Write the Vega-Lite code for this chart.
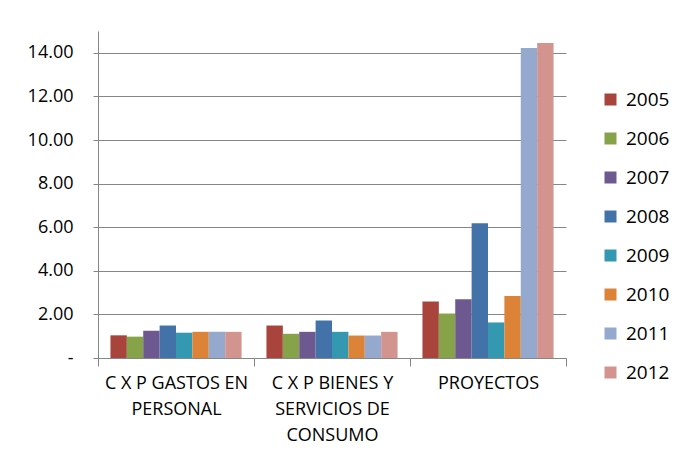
{
  "$schema": "https://vega.github.io/schema/vega-lite/v6.json",
  "width": 468,
  "height": 327,
  "autosize": "none",
  "padding": {"left": 98, "top": 31, "right": 112, "bottom": 102},
  "background": "white",
  "config": {
    "font": "Open Sans",
    "view": {"stroke": null}
  },
  "data": {
    "values": [
      {"cat": "C X P GASTOS EN|PERSONAL", "year": "2005", "value": 1.04},
      {"cat": "C X P GASTOS EN|PERSONAL", "year": "2006", "value": 0.98},
      {"cat": "C X P GASTOS EN|PERSONAL", "year": "2007", "value": 1.25},
      {"cat": "C X P GASTOS EN|PERSONAL", "year": "2008", "value": 1.49},
      {"cat": "C X P GASTOS EN|PERSONAL", "year": "2009", "value": 1.16},
      {"cat": "C X P GASTOS EN|PERSONAL", "year": "2010", "value": 1.2},
      {"cat": "C X P GASTOS EN|PERSONAL", "year": "2011", "value": 1.2},
      {"cat": "C X P GASTOS EN|PERSONAL", "year": "2012", "value": 1.2},
      {"cat": "C X P BIENES Y|SERVICIOS DE|CONSUMO", "year": "2005", "value": 1.49},
      {"cat": "C X P BIENES Y|SERVICIOS DE|CONSUMO", "year": "2006", "value": 1.11},
      {"cat": "C X P BIENES Y|SERVICIOS DE|CONSUMO", "year": "2007", "value": 1.2},
      {"cat": "C X P BIENES Y|SERVICIOS DE|CONSUMO", "year": "2008", "value": 1.72},
      {"cat": "C X P BIENES Y|SERVICIOS DE|CONSUMO", "year": "2009", "value": 1.2},
      {"cat": "C X P BIENES Y|SERVICIOS DE|CONSUMO", "year": "2010", "value": 1.03},
      {"cat": "C X P BIENES Y|SERVICIOS DE|CONSUMO", "year": "2011", "value": 1.03},
      {"cat": "C X P BIENES Y|SERVICIOS DE|CONSUMO", "year": "2012", "value": 1.2},
      {"cat": "PROYECTOS", "year": "2005", "value": 2.59},
      {"cat": "PROYECTOS", "year": "2006", "value": 2.04},
      {"cat": "PROYECTOS", "year": "2007", "value": 2.7},
      {"cat": "PROYECTOS", "year": "2008", "value": 6.18},
      {"cat": "PROYECTOS", "year": "2009", "value": 1.63},
      {"cat": "PROYECTOS", "year": "2010", "value": 2.84},
      {"cat": "PROYECTOS", "year": "2011", "value": 14.22},
      {"cat": "PROYECTOS", "year": "2012", "value": 14.45}
    ]
  },
  "mark": {"type": "bar"},
  "encoding": {
    "x": {
      "field": "cat",
      "type": "nominal",
      "sort": null,
      "title": null,
      "scale": {"paddingInner": 0, "paddingOuter": 0},
      "axis": {
        "labelAngle": 0,
        "labelExpr": "split(datum.label, '|')",
        "labelFont": "Open Sans",
        "labelFontSize": 18,
        "labelColor": "#000000",
        "labelLineHeight": 26,
        "labelPadding": 8,
        "tickBand": "extent",
        "tickSize": 8,
        "tickColor": "#868686",
        "domainColor": "#868686",
        "labelLimit": 200
      }
    },
    "xOffset": {
      "field": "year",
      "type": "nominal",
      "scale": {"paddingInner": 0, "paddingOuter": 0.76}
    },
    "y": {
      "field": "value",
      "type": "quantitative",
      "title": null,
      "scale": {"domain": [0, 15], "nice": false},
      "axis": {
        "values": [0, 2, 4, 6, 8, 10, 12, 14],
        "labelExpr": "datum.value == 0 ? '-' : format(datum.value, '.2f')",
        "labelFont": "Open Sans",
        "labelFontSize": 18,
        "labelColor": "#000000",
        "labelPadding": 20,
        "tickSize": 5,
        "tickColor": "#868686",
        "domainColor": "#868686",
        "gridColor": "#868686",
        "grid": true
      }
    },
    "color": {
      "field": "year",
      "type": "nominal",
      "title": null,
      "scale": {
        "domain": ["2005", "2006", "2007", "2008", "2009", "2010", "2011", "2012"],
        "range": ["#A9443D", "#86A34A", "#6E5890", "#4372A8", "#3499B0", "#DC8338", "#95A9CF", "#D3948F"]
      },
      "legend": {
        "orient": "none",
        "legendX": 503,
        "legendY": 59,
        "symbolType": "square",
        "symbolSize": 144,
        "symbolStrokeWidth": 0,
        "labelFont": "Open Sans",
        "labelFontSize": 19,
        "labelColor": "#000000",
        "rowPadding": 19,
        "labelOffset": 6
      }
    }
  }
}
